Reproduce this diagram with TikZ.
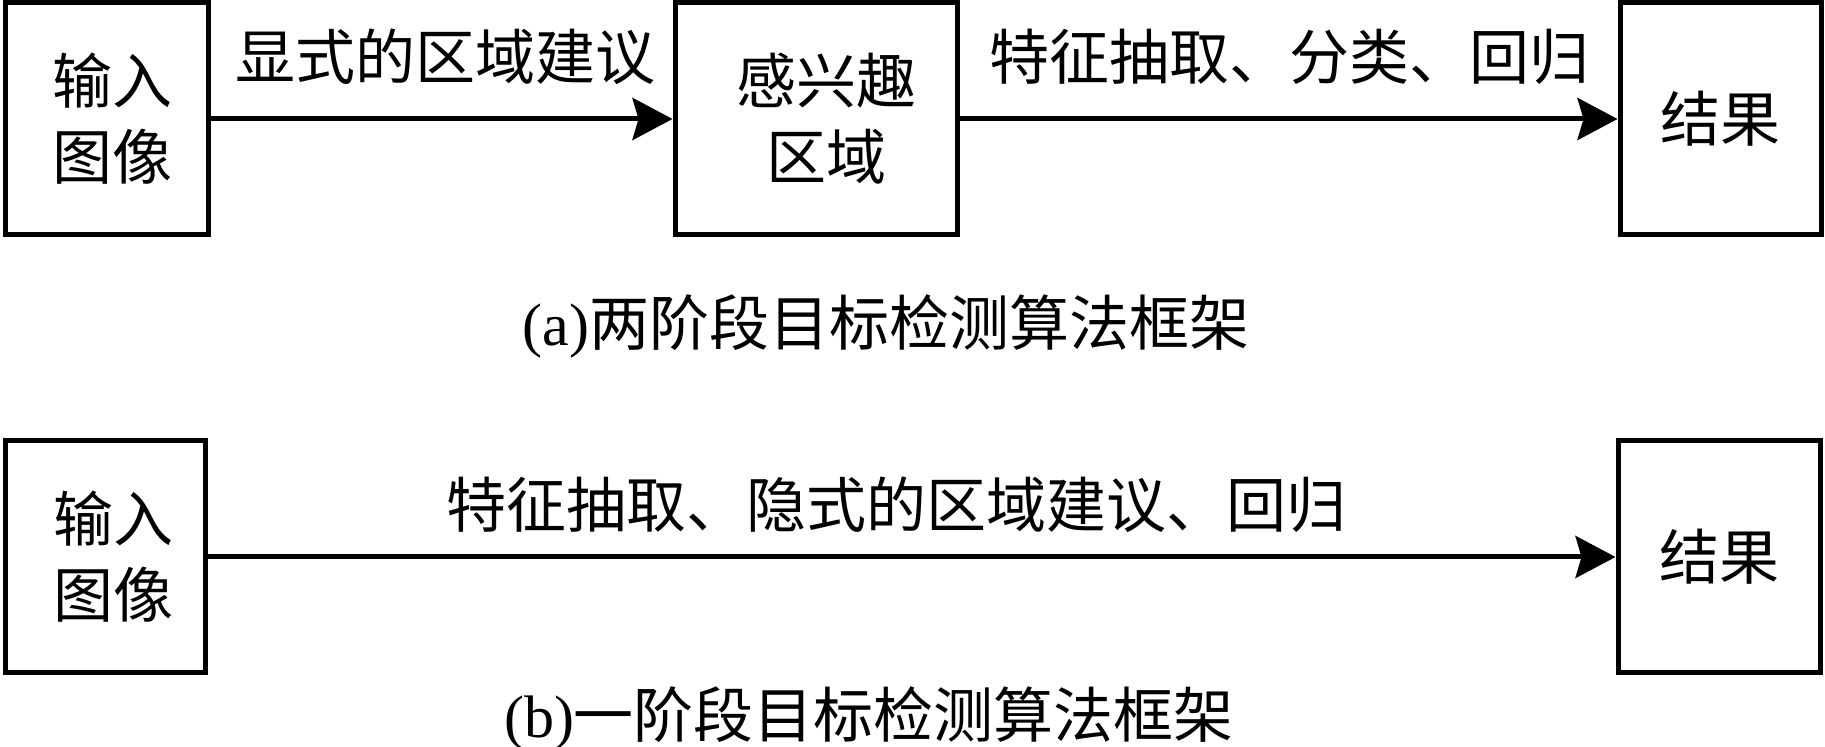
\documentclass[tikz,border=0pt]{standalone}
\usepackage{fontspec}
\setmainfont{Liberation Serif}
\newfontfamily\cjk{Noto Sans CJK SC}
\usetikzlibrary{arrows.meta}
\begin{document}
\begin{tikzpicture}[x=0.5pt,y=-0.5pt,
  box/.style={draw, line width=2.5pt, inner sep=0pt, align=center,
    font=\cjk\fontsize{30pt}{38pt}\selectfont},
  lbl/.style={inner sep=0pt, anchor=base, font=\cjk\fontsize{30pt}{36pt}\selectfont},
  arr/.style={line width=2.5pt, -{Stealth[length=20pt,width=21pt,inset=3pt]}}]
\useasboundingbox (0,0) rectangle (1825,747);
% (a) two-stage
\node[box, minimum width=101.5pt, minimum height=116pt] (in1) at (106.5,119) {\hspace*{6pt}输入\\\hspace*{6pt}图像};
\node[box, minimum width=141pt, minimum height=116pt] (roi) at (816,119) {\hspace*{10pt}感兴趣\\\hspace*{10pt}区域};
\node[box, minimum width=100.5pt, minimum height=116pt] (res1) at (1720.5,119) {结果};
\draw[arr] (in1) -- (roi);
\draw[arr] (roi) -- (res1);
\node[lbl] (l1) at (445,80) {显式的区域建议};
\node[lbl] (l2) at (1289,80) {特征抽取、分类、回归};
\node[lbl] (capa) at (886,346) {{\rmfamily(a)}两阶段目标检测算法框架};
% (b) one-stage
\node[box, minimum width=100pt, minimum height=116pt] (in2) at (105,557) {\hspace*{9pt}输入\\\hspace*{9pt}图像};
\node[box, minimum width=101pt, minimum height=116pt] (res2) at (1719,557) {结果};
\draw[arr] (in2) -- (res2);
\node[lbl] (l3) at (896,528) {特征抽取、隐式的区域建议、回归};
\node[lbl] (capb) at (869,737) {{\rmfamily(b)}一阶段目标检测算法框架};
\end{tikzpicture}
\end{document}
